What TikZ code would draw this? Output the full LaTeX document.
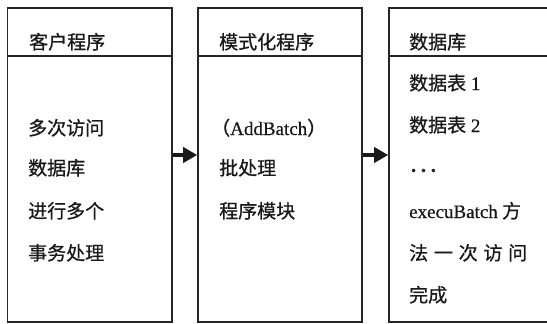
\documentclass[tikz,border=0pt]{standalone}
\usepackage{fontspec}
\setmainfont[FakeBold=0.6]{Liberation Serif}
\newfontfamily\cjk[FakeBold=0.8]{Noto Sans CJK SC}
\usetikzlibrary{arrows.meta}
\tikzset{
  colbox/.style={draw=black!85, line width=1.6pt, minimum height=314pt, inner sep=0pt},
  hline/.style={draw=black!85, line width=1.8pt},
  txt/.style={anchor=base west, inner sep=0pt, font=\fontsize{19}{22}\selectfont\cjk, text=black!90},
  flow/.style={line width=3.6pt, -{Triangle[length=14pt,width=15pt]}, black!90},
}
\begin{document}
\begin{tikzpicture}[x=1pt,y=-1pt]
\useasboundingbox[fill=white] (0,0) rectangle (547,324);
% boxes
\node[colbox, minimum width=164.5pt] (b1) at (89.75,165) {};
\node[colbox, minimum width=164pt] (b2) at (280,165) {};
\node[colbox, minimum width=190pt] (b3) at (484,165) {};
% header separators
\coordinate (h1l) at (b1.west |- 0,56);
\coordinate (h1r) at (b1.east |- 0,56);
\coordinate (h2l) at (b2.west |- 0,56);
\coordinate (h2r) at (b2.east |- 0,56);
\coordinate (h3l) at (b3.west |- 0,56);
\coordinate (h3r) at (b3.east |- 0,56);
\draw[hline] (h1l) -- (h1r);
\draw[hline] (h2l) -- (h2r);
\draw[hline] (h3l) -- (h3r);
% headers
\node[txt] (t1) at (29,49) {客户程序};
\node[txt] (t2) at (219,49) {模式化程序};
\node[txt] (t3) at (409,49) {数据库};
% box 1 body
\node[txt] (a1) at (28,135) {多次访问};
\node[txt] (a2) at (28,175) {数据库};
\node[txt] (a3) at (28,218) {进行多个};
\node[txt] (a4) at (28,260) {事务处理};
% box 2 body
\node[txt] (m1) at (211,135) {（{\rmfamily AddBatch}）};
\node[txt] (m2) at (219,175) {批处理};
\node[txt] (m3) at (219,218) {程序模块};
% box 3 body
\node[txt] (d1) at (409,90) {数据表{\rmfamily\ 1}};
\node[txt] (d2) at (409,132) {数据表{\rmfamily\ 2}};
\node[anchor=center, inner sep=0pt, font=\fontsize{14}{16}\selectfont, text=black!85] (d3) at (423.5,172) {•\hspace{5pt}•\hspace{5pt}•};
\node[txt] (d4) at (409,218) {{\rmfamily execuBatch} 方};
\node[txt] (d5) at (409,260) {\hbox to 118pt{法\hfill 一\hfill 次\hfill 访\hfill 问}};
\node[txt] (d6) at (409,302) {完成};
% arrows
\coordinate (p1) at (b1.east |- 0,155);
\coordinate (p2) at (b2.west |- 0,155);
\coordinate (p3) at (b2.east |- 0,155);
\coordinate (p4) at (b3.west |- 0,155);
\draw[flow] (p1) -- (p2);
\draw[flow] (p3) -- (p4);
\end{tikzpicture}
\end{document}
